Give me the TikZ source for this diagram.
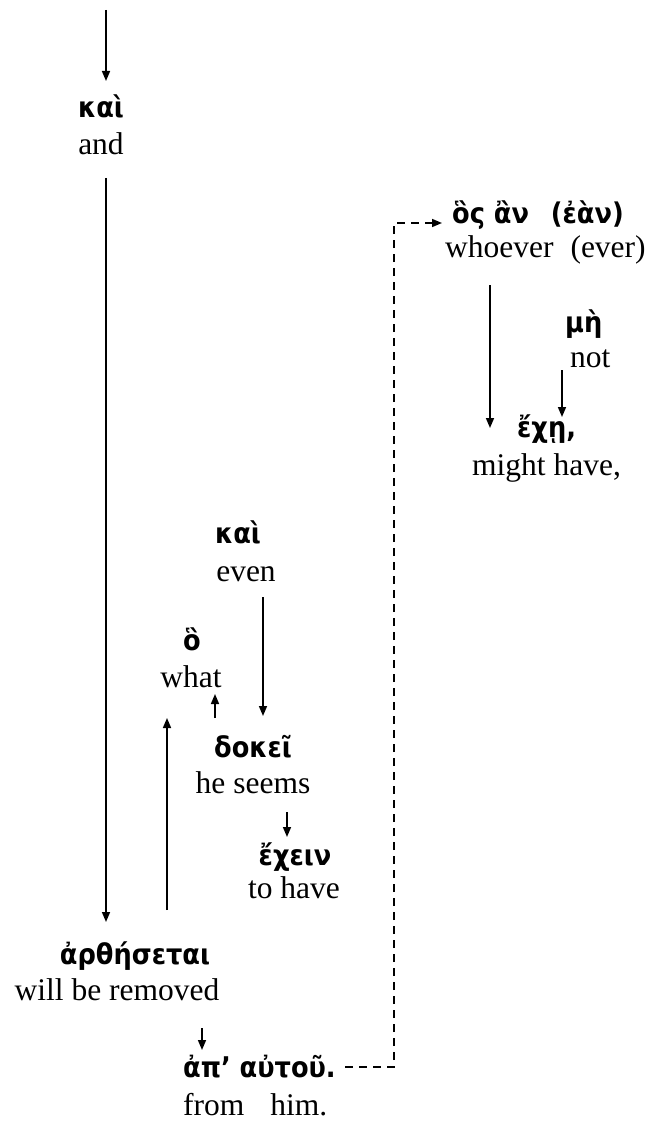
\documentclass[tikz,border=0pt]{standalone}
\usepackage{fontspec}
\setmainfont{Liberation Serif}
\newfontfamily\grk{DejaVu Sans Condensed}[Script=Greek]
\usetikzlibrary{arrows.meta}
\begin{document}
\begin{tikzpicture}[x=1pt,y=-1pt,
  gk/.style={inner sep=0pt,anchor=base,font=\grk\bfseries\fontsize{28.5}{30}\selectfont},
  en/.style={inner sep=0pt,anchor=base,font=\fontsize{31.5}{34}\selectfont},
  arr/.style={line width=1.6pt,-{Triangle[length=10pt,width=8pt]}},
  dsh/.style={line width=1.6pt,dash pattern=on 8pt off 6pt}]
\useasboundingbox (0,0) rectangle (649,1123);
% nodes
\node[gk] (kai1) at (101,118) {καὶ};
\node[en] (and1) at (101,155) {and};
\node[gk] (arth) at (135,964) {ἀρθήσεται};
\node[en] (wbr) at (117,1000) {will be removed};
\node[gk] (ho) at (192,650) {ὃ};
\node[en] (what) at (191,687) {what};
\node[gk] (kai2) at (238,543) {καὶ};
\node[en] (even) at (246,581) {even};
\node[gk] (dokei) at (253,757) {δοκεῖ};
\node[en] (seems) at (253,793) {he seems};
\node[gk] (echein) at (295,865) {ἔχειν};
\node[en] (tohave) at (294,898) {to have};
\node[gk,anchor=base west] (apauto) at (183,1077) {ἀπ’ αὐτοῦ.};
\node[en,anchor=base west] (fromhim) at (183,1115) {from\hspace{26pt}him.};
\node[gk,anchor=base west] (hosan) at (452,223) {ὃς ἂν\hspace{22pt}(ἐὰν)};
\node[en,anchor=base west] (whoever) at (445,258) {whoever\hspace{9pt} (ever)};
\node[gk,anchor=base west] (me) at (565,332) {μὴ};
\node[en,anchor=base west] (not) at (570,367) {not};
\node[gk,anchor=base west] (eche) at (517,437) {ἔχῃ,};
\node[en,anchor=base west] (might) at (472,475) {might have,};
% connector end points
\coordinate (t0) at (106,10);
\coordinate (t1) at (106,81);
\coordinate (l0) at (106,178);
\coordinate (l1) at (106,922);
\coordinate (u0) at (167,910);
\coordinate (u1) at (167,718);
\coordinate (w0) at (215,718);
\coordinate (w1) at (215,694);
\coordinate (e0) at (263,597);
\coordinate (e1) at (263,716);
\coordinate (s0) at (287,812);
\coordinate (s1) at (287,837);
\coordinate (r0) at (202,1028);
\coordinate (r1) at (202,1050);
\coordinate (d0) at (345,1067);
\coordinate (d1) at (394,1067);
\coordinate (d2) at (394,223);
\coordinate (d3) at (442,223);
\coordinate (h0) at (490,285);
\coordinate (h1) at (490,428);
\coordinate (n0) at (562,370);
\coordinate (n1) at (562,417);
% connectors
\draw[arr] (t0) -- (t1);
\draw[arr] (l0) -- (l1);
\draw[arr] (u0) -- (u1);
\draw[arr] (w0) -- (w1);
\draw[arr] (e0) -- (e1);
\draw[arr] (s0) -- (s1);
\draw[arr] (r0) -- (r1);
\draw[dsh,-{Triangle[length=10pt,width=8pt]}] (d0) -- (d1) -- (d2) -- (d3);
\draw[arr] (h0) -- (h1);
\draw[arr] (n0) -- (n1);
\end{tikzpicture}
\end{document}
